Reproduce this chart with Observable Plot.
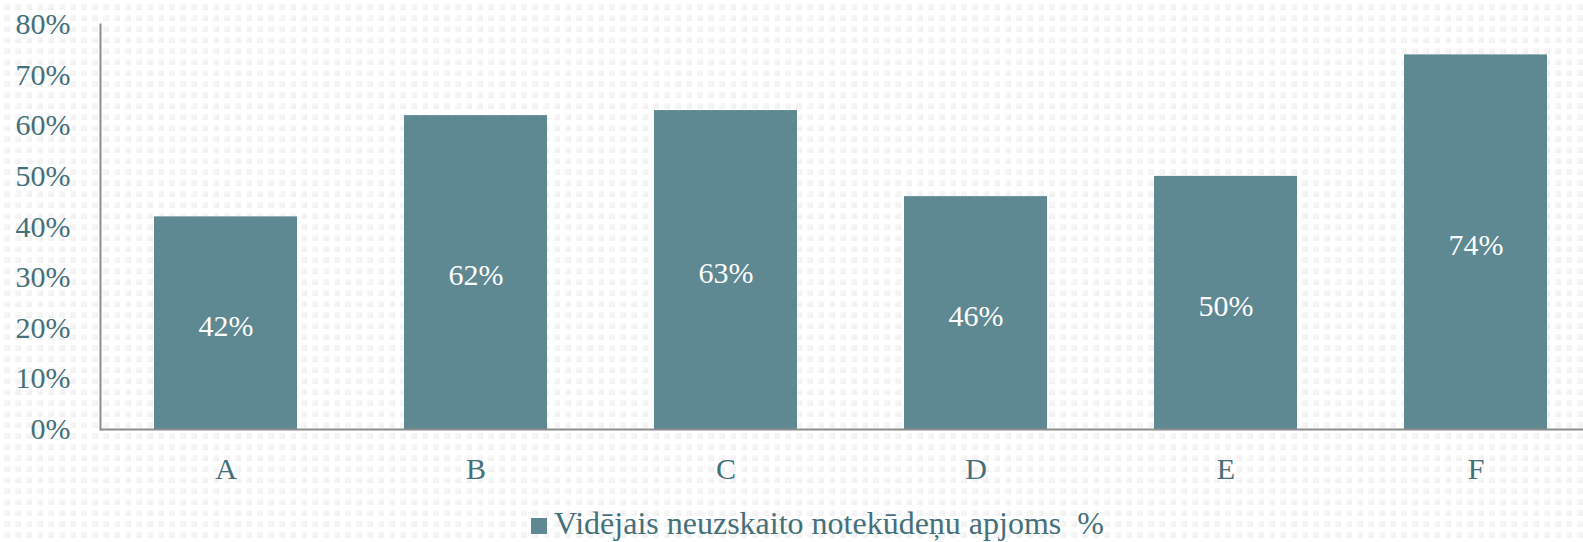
<!DOCTYPE html>
<html>
<head>
<meta charset="utf-8">
<script src="https://cdn.jsdelivr.net/npm/d3@7"></script>
<script src="https://cdn.jsdelivr.net/npm/@observablehq/plot@0.6"></script>
<style>
  html, body { margin: 0; padding: 0; }
  #wrap {
    position: relative; width: 1583px; height: 542px; overflow: hidden;
    background-color: #ffffff;
    background-image: url("data:image/svg+xml;utf8,<svg xmlns='http://www.w3.org/2000/svg' width='11' height='11'><defs><linearGradient id='g' x1='0' y1='0' x2='1' y2='1'><stop offset='0' stop-color='%23fafafa'/><stop offset='1' stop-color='%23efefef'/></linearGradient></defs><rect x='4' y='4' width='6' height='6' fill='url(%23g)'/></svg>");
    background-size: 11px 11px;
    font-family: "Liberation Serif", serif;
  }
  #legend {
    position: absolute; left: 531px; top: 505px;
    font-size: 32px; color: #44707a; white-space: pre; line-height: 36px;
  }
  #legend .sw { display: inline-block; width: 16px; height: 16px; background: #5e8892; margin-right: 7px; vertical-align: 0px; }
</style>
</head>
<body>
<div id="wrap">
  <div id="chart"></div>
  <div id="legend"><span class="sw"></span>Vidējais neuzskaito notekūdeņu apjoms  %</div>
</div>
<script>
const categories = ["A", "B", "C", "D", "E", "F"];
const values = [42, 62, 63, 46, 50, 74];
const yTicks = [0, 10, 20, 30, 40, 50, 60, 70, 80];

const data = categories.map((c, i) => ({cat: c, value: values[i]}));
const textColor = "#44707a";
const barColor = "#5e8892";

const chart = Plot.plot({
  width: 1583,
  height: 500,
  marginLeft: 100,
  marginRight: 0,
  marginTop: 24,
  marginBottom: 71,
  style: {background: "transparent", fontFamily: "Liberation Serif, serif", fontSize: "30px", color: textColor, overflow: "visible"},
  x: {domain: categories, paddingInner: 0.428, paddingOuter: 0.214, range: [100, 1600]},
  y: {domain: [0, 80]},
  marks: [
    Plot.barY(data, {x: "cat", y: "value", fill: barColor}),
    Plot.text(data, {x: "cat", y: d => d.value / 2, text: d => d.value + "%", fill: "white", fontSize: 30, dy: 3}),
    Plot.ruleY([0], {stroke: "#8c8c8c", strokeWidth: 2}),
    Plot.frame({anchor: "left", stroke: "#8c8c8c", strokeWidth: 2}),
    Plot.axisY({ticks: yTicks, tickFormat: d => d + "%", tickSize: 0, tickPadding: 30, label: null, fill: textColor, fontSize: 30}),
    Plot.axisX({tickSize: 0, tickPadding: 28, label: null, fill: textColor, fontSize: 30})
  ]
});
document.getElementById("chart").appendChild(chart);
</script>
</body>
</html>
